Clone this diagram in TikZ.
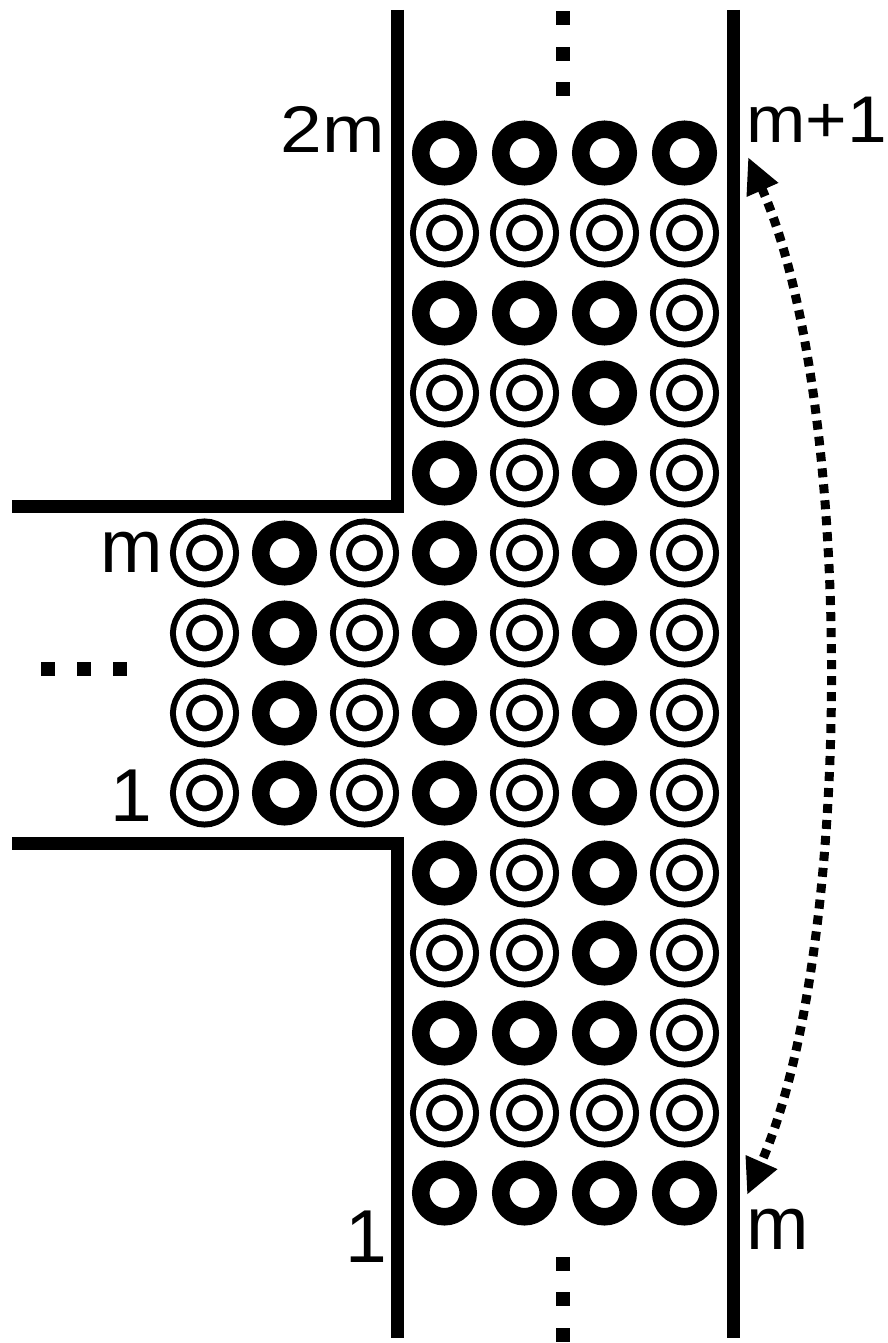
\documentclass[tikz,border=0pt]{standalone}
\usepackage{fontspec}
\setmainfont{Liberation Sans}
\usepackage{graphicx}
\usetikzlibrary{arrows.meta}
\tikzset{
  ringb/.style={circle,draw,line width=17.5pt,minimum size=47.5pt,inner sep=0pt},
  ringw/.style={circle,draw,double,line width=6pt,double distance=10pt,minimum size=47pt,inner sep=0pt},
  ring/.style={ring#1},
  wall/.style={line width=13pt},
  sqdot/.style={fill,rectangle,minimum size=14pt,inner sep=0pt},
  lbl/.style={inner sep=0pt,font=\fontsize{75}{80}\selectfont},
}

\begin{document}
\begin{tikzpicture}[x=1pt,y=-1pt]
\useasboundingbox (0,0) rectangle (888,1343);
% channel walls
\draw[wall] (397,10) -- (397,506) -- (12,506);
\draw[wall] (12,843) -- (397,843) -- (397,1338);
\draw[wall] (733,10) -- (733,1338);
% main channel, rows 1..14 from the top
\foreach \r/\a/\b/\c/\d in {1/b/b/b/b,2/w/w/w/w,3/b/b/b/w,4/w/w/b/w,5/b/w/b/w,
    6/b/w/b/w,7/b/w/b/w,8/b/w/b/w,9/b/w/b/w,10/b/w/b/w,11/w/w/b/w,12/b/b/b/w,
    13/w/w/w/w,14/b/b/b/b}
  \foreach \t [count=\k] in {\a,\b,\c,\d}
    \node[ring/.expand once=\t] (m-\r-\k) at ({364.5+80*\k},{73+80*\r}) {};
% side branch
\foreach \r in {6,...,9}
  \foreach \t [count=\k] in {w,b,w}
    \node[ring/.expand once=\t] (s-\r-\k) at ({124.5+80*\k},{73+80*\r}) {};
% dots
\foreach \y in {18,54,89,1264,1299,1335}
  \node[sqdot] (v\y) at (563,\y) {};
\foreach \x in {48,84,120}
  \node[sqdot] (h\x) at (\x,669) {};
% labels
\node[lbl,anchor=base east] (l2m) at (385,153) {\scalebox{1}[0.88]{2m}};
\node[lbl,anchor=base west] (lm1) at (746,143) {\scalebox{0.95}[0.88]{m+1}};
\node[lbl,anchor=base east] (lsm) at (163,572) {m};
\node[lbl,anchor=base east] (ls1) at (152,821) {1};
\node[lbl,anchor=base east] (lb1) at (387,1262) {1};
\node[lbl,anchor=base west] (lbm) at (746,1249) {m};
% swap arrow
\coordinate (aT) at (748,157);
\coordinate (aB) at (747,1195);
\draw[line width=9pt,dash pattern=on 9pt off 7pt,
  {Triangle[length=36pt,width=32pt]}-{Triangle[length=36pt,width=32pt]}]
  (aT) .. controls (855,400) and (855,950) .. (aB);
\end{tikzpicture}
\end{document}
